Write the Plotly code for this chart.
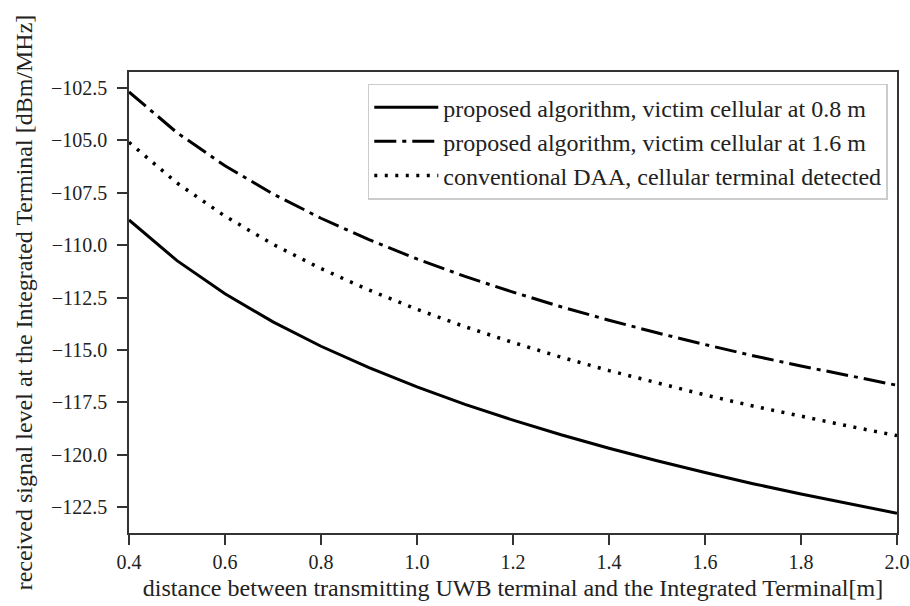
import plotly.graph_objects as go

distance_m = [0.4, 0.5, 0.6, 0.7, 0.8, 0.9, 1.0, 1.1, 1.2, 1.3, 1.4, 1.5, 1.6, 1.7, 1.8, 1.9, 2.0]

proposed_08 = [-108.80, -110.74, -112.32, -113.66, -114.82, -115.84, -116.76, -117.59, -118.34,
               -119.04, -119.68, -120.28, -120.84, -121.37, -121.86, -122.33, -122.78]
proposed_16 = [-102.70, -104.64, -106.22, -107.56, -108.72, -109.74, -110.66, -111.49, -112.24,
               -112.94, -113.58, -114.18, -114.74, -115.27, -115.76, -116.23, -116.68]
conventional = [-105.10, -107.04, -108.62, -109.96, -111.12, -112.14, -113.06, -113.89, -114.64,
                -115.34, -115.98, -116.58, -117.14, -117.67, -118.16, -118.63, -119.08]

names = ["proposed algorithm, victim cellular at 0.8 m",
         "proposed algorithm, victim cellular at 1.6 m",
         "conventional DAA, cellular terminal detected"]

x_ticks = [0.4, 0.6, 0.8, 1.0, 1.2, 1.4, 1.6, 1.8, 2.0]
y_ticks = [-102.5, -105.0, -107.5, -110.0, -112.5, -115.0, -117.5, -120.0, -122.5]

FONT = "Liberation Serif, Times New Roman, serif"

fig = go.Figure()
fig.add_trace(go.Scatter(x=distance_m, y=proposed_08, mode="lines", name=names[0],
                         line=dict(color="black", width=3, dash="solid")))
fig.add_trace(go.Scatter(x=distance_m, y=proposed_16, mode="lines", name=names[1],
                         line=dict(color="black", width=3, dash="22px,6px,4px,6px")))
fig.add_trace(go.Scatter(x=distance_m, y=conventional, mode="lines", name=names[2],
                         line=dict(color="black", width=3.5, dash="3px,7.5px")))

fig.update_layout(
    width=910, height=606,
    margin=dict(l=129, r=13, t=72, b=73),
    paper_bgcolor="white", plot_bgcolor="white",
    font=dict(family=FONT, size=20, color="#222"),
    showlegend=True,
    legend=dict(
        x=0.988, y=0.975, xanchor="right", yanchor="top",
        bgcolor="rgba(255,255,255,0.9)", bordercolor="#cccccc", borderwidth=1.5,
        font=dict(family=FONT, size=24, color="#222"),
        tracegroupgap=0, itemwidth=64,
    ),
    xaxis=dict(
        range=[0.4, 2.0], tickvals=x_ticks, ticktext=[f"{v:.1f}" for v in x_ticks],
        showgrid=False, zeroline=False,
        showline=True, linecolor="#333", linewidth=1.5, mirror=True,
        ticks="outside", ticklen=10, tickwidth=1.5, tickcolor="#333",
        title=dict(text="distance between transmitting UWB terminal and the Integrated Terminal[m]",
                   font=dict(family=FONT, size=24, color="#222"), standoff=7),
        automargin=False,
    ),
    yaxis=dict(
        range=[-123.72, -101.75], tickvals=y_ticks,
        ticktext=[f"\u2212{abs(v):.1f}" for v in y_ticks],
        showgrid=False, zeroline=False,
        showline=True, linecolor="#333", linewidth=1.5, mirror=True,
        ticks="outside", ticklen=10, tickwidth=1.5, tickcolor="#333",
        ticklabelstandoff=6,
        title=dict(text="received signal level at the Integrated Terminal [dBm/MHz]",
                   font=dict(family=FONT, size=24, color="#222"), standoff=12),
        automargin=False,
    ),
)

fig.write_html("out.html")
